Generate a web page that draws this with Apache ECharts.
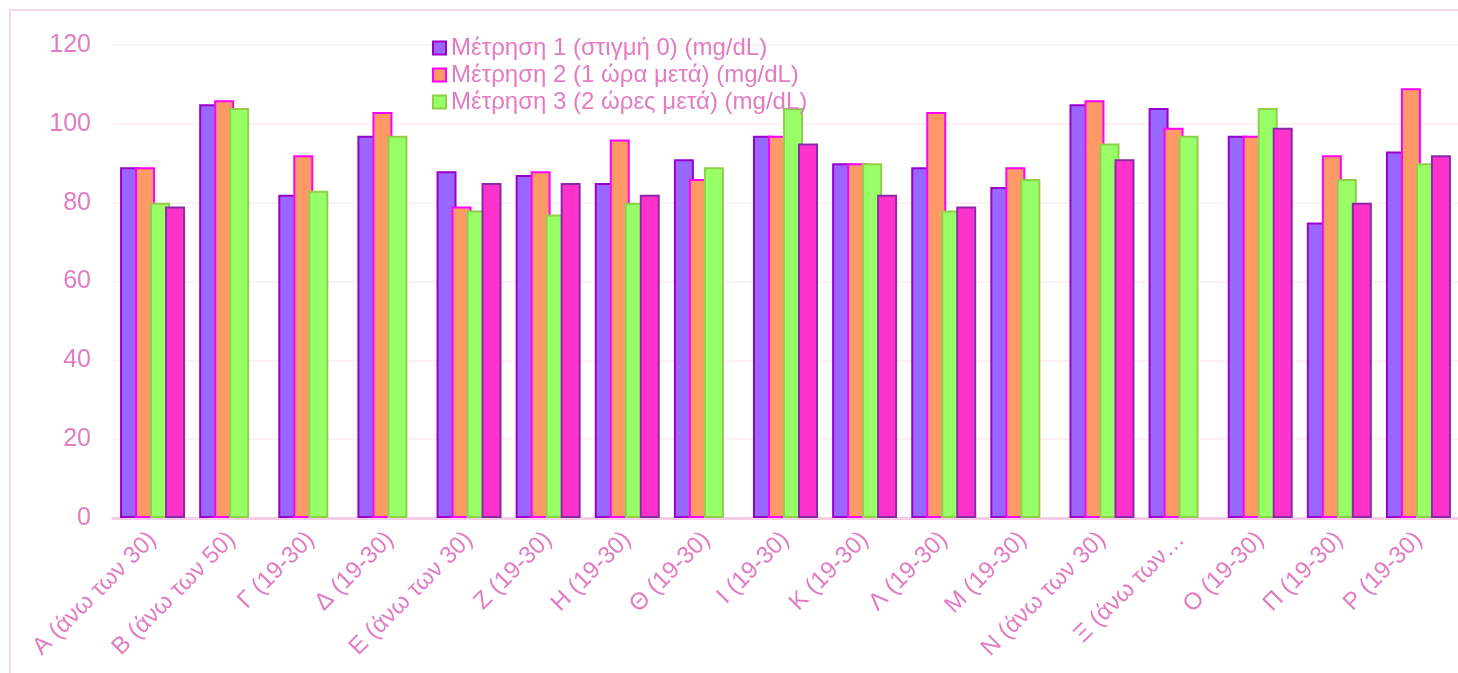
<!DOCTYPE html>
<html>
<head>
<meta charset="utf-8">
<style>
  html, body { margin: 0; padding: 0; background: #ffffff; overflow: hidden; }
  #chart { width: 1458px; height: 673px; }
</style>
<script src="https://cdn.jsdelivr.net/npm/echarts@6/dist/echarts.min.js"></script>
</head>
<body>
<div id="chart"></div>
<script>
// Participants (age group in parentheses)
const categories = [
  'Α (άνω των 30)', 'Β (άνω των 50)', 'Γ (19-30)', 'Δ (19-30)', 'Ε (άνω των 30)',
  'Ζ (19-30)', 'Η (19-30)', 'Θ (19-30)', 'Ι (19-30)', 'Κ (19-30)', 'Λ (19-30)',
  'Μ (19-30)', 'Ν (άνω των 30)', 'Ξ (άνω των…', 'Ο (19-30)', 'Π (19-30)', 'Ρ (19-30)'
];

const seriesNames = [
  'Μέτρηση 1 (στιγμή 0) (mg/dL)',
  'Μέτρηση 2 (1 ώρα μετά) (mg/dL)',
  'Μέτρηση 3 (2 ώρες μετά) (mg/dL)',
  'Μέτρηση 4'
];

// Glucose readings (mg/dL)
const measure1 = [89, 105, 82, 97, 88, 87, 85, 91, 97, 90, 89, 84, 105, 104, 97, 75, 93];
const measure2 = [89, 106, 92, 103, 79, 88, 96, 86, 97, 90, 103, 89, 106, 99, 97, 92, 109];
const measure3 = [80, 104, 83, 97, 78, 77, 80, 89, 104, 90, 78, 86, 95, 97, 104, 86, 90];
const measure4 = [79, null, null, null, 85, 85, 82, null, 95, 82, 79, null, 91, null, 99, 80, 92];

const yTicks = { min: 0, max: 120, interval: 20 };

const pink = '#e27bc2';
const font = '"Liberation Sans", Arial, sans-serif';

const styles = [
  { fill: '#9966ff', stroke: '#9a00cc' },
  { fill: '#ff9966', stroke: '#ff00ff' },
  { fill: '#99ff66', stroke: '#8ed04a' },
  { fill: '#ff33cc', stroke: '#8a2aa8' }
];

const values = [measure1, measure2, measure3, measure4];

const chart = echarts.init(document.getElementById('chart'), null, { renderer: 'canvas' });

chart.setOption({
  animation: false,
  backgroundColor: '#ffffff',
  textStyle: { fontFamily: font },
  graphic: [{
    type: 'rect',
    z: -10,
    silent: true,
    shape: { x: 10, y: 10, width: 1520, height: 720 },
    style: { fill: 'none', stroke: '#f6d6ea', lineWidth: 2 }
  }],
  legend: {
    data: seriesNames.slice(0, 3),
    orient: 'vertical',
    left: 427,
    top: 31,
    itemGap: 3,
    itemWidth: 13,
    itemHeight: 13,
    icon: 'rect',
    textStyle: { color: pink, fontSize: 24, fontFamily: font }
  },
  grid: { left: 113, right: -11, top: 45, bottom: 155, containLabel: false },
  xAxis: {
    type: 'category',
    data: categories,
    axisLine: { show: true, lineStyle: { color: '#f5cde6', width: 3 } },
    axisTick: { show: false },
    axisLabel: {
      rotate: 45,
      color: pink,
      fontSize: 24,
      fontFamily: font,
      margin: 18,
      interval: 0
    },
    splitLine: { show: false }
  },
  yAxis: {
    type: 'value',
    min: yTicks.min,
    max: yTicks.max,
    interval: yTicks.interval,
    axisLine: { show: false },
    axisTick: { show: false },
    axisLabel: { color: pink, fontSize: 25, fontFamily: font, margin: 22 },
    splitLine: { show: true, lineStyle: { color: '#fcf1f5', width: 2 } }
  },
  series: values.map((arr, i) => ({
    name: seriesNames[i],
    type: 'bar',
    data: arr,
    barWidth: 20,
    barGap: '-25%',
    itemStyle: {
      color: styles[i].fill,
      borderColor: styles[i].stroke,
      borderWidth: 2
    },
    emphasis: { disabled: true }
  }))
});
</script>
</body>
</html>
